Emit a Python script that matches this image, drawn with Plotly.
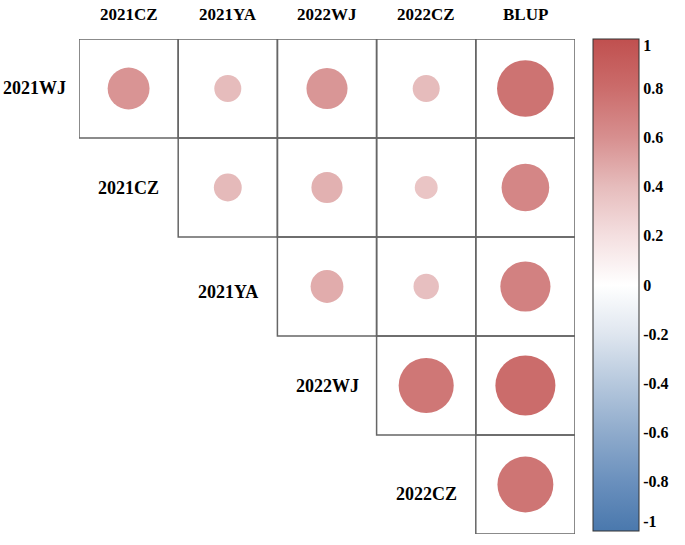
import plotly.graph_objects as go

row_names = ["2021WJ", "2021CZ", "2021YA", "2022WJ", "2022CZ"]
col_names = ["2021CZ", "2021YA", "2022WJ", "2022CZ", "BLUP"]
# upper-triangle correlation values (None = empty)
corr = [
    [0.58, 0.40, 0.57, 0.40, 0.76],
    [None, 0.41, 0.45, 0.35, 0.65],
    [None, None, 0.47, 0.38, 0.68],
    [None, None, None, 0.74, 0.80],
    [None, None, None, None, 0.75],
]
cbar_labels = ["1", "0.8", "0.6", "0.4", "0.2", "0", "-0.2", "-0.4", "-0.6", "-0.8", "-1"]
cbar_label_pos = [0.975, 0.8, 0.6, 0.4, 0.2, 0, -0.2, -0.4, -0.6, -0.8, -0.96]

colorscale = [
    [0.0, "#4a78ad"], [0.1, "#6a90bd"], [0.2, "#8fabcc"], [0.3, "#b6c8dd"],
    [0.4, "#dfe6ef"], [0.5, "#ffffff"], [0.6, "#f4dfe0"], [0.7, "#e6bcbc"],
    [0.8, "#d78f8f"], [0.9, "#cb6c6b"], [1.0, "#c0504f"],
]

SERIF = "Liberation Serif, Times New Roman, serif"
CELL = 99
N = len(col_names)

xs, ys, vals, sizes = [], [], [], []
for i, row in enumerate(corr):
    for j, v in enumerate(row):
        if v is None:
            continue
        xs.append(j)
        ys.append(i)
        vals.append(v)
        sizes.append(CELL * (0.833 * abs(v) - 0.06))

fig = go.Figure()
fig.add_trace(go.Scatter(
    x=xs, y=ys, mode="markers",
    marker=dict(
        size=sizes, sizemode="diameter", color=vals, colorscale=colorscale,
        cmin=-1, cmax=1, line=dict(width=0), opacity=1,
        colorbar=dict(
            x=1.036, xanchor="left", y=1, yanchor="top",
            len=492, lenmode="pixels", thickness=46, thicknessmode="pixels",
            outlinecolor="#333333", outlinewidth=1,
            tickvals=cbar_label_pos, ticktext=["<b>%s</b>" % t for t in cbar_labels],
            tickfont=dict(family=SERIF, size=16, color="black"),
            ticks="", xpad=0, ypad=0,
        ),
    ),
    hoverinfo="skip", showlegend=False,
))

shapes = []
for i, row in enumerate(corr):
    for j, v in enumerate(row):
        if v is None:
            continue
        shapes.append(dict(type="rect", x0=j - 0.5, x1=j + 0.5, y0=i - 0.5, y1=i + 0.5,
                           line=dict(color="#666666", width=1.5), layer="below"))

annotations = []
for j, name in enumerate(col_names):
    annotations.append(dict(x=j, y=1, xref="x", yref="paper", xanchor="center",
                            yanchor="middle", yshift=25, text="<b>%s</b>" % name,
                            showarrow=False,
                            font=dict(family=SERIF, size=17, color="black")))
row_yshift = [0, 0, -5, 0, -9]
row_xshift = [5, 0, 0, 0, 0]
for i, name in enumerate(row_names):
    annotations.append(dict(x=(i - 0.5) / N, y=1 - (i + 0.5) / N, xref="paper", yref="paper",
                            xanchor="center", yanchor="middle",
                            text="<b>%s</b>" % name, showarrow=False,
                            yshift=row_yshift[i], xshift=row_xshift[i],
                            font=dict(family=SERIF, size=18, color="black")))

fig.update_layout(
    width=685, height=545,
    margin=dict(l=79, r=110, t=39, b=11),
    paper_bgcolor="white", plot_bgcolor="white",
    xaxis=dict(range=[-0.5, 4.5], visible=False, fixedrange=True),
    yaxis=dict(range=[4.5, -0.5], visible=False, fixedrange=True),
    shapes=shapes, annotations=annotations,
)

fig.write_html("out.html", config={"displayModeBar": False},
               post_script="document.body.style.margin='0';")
